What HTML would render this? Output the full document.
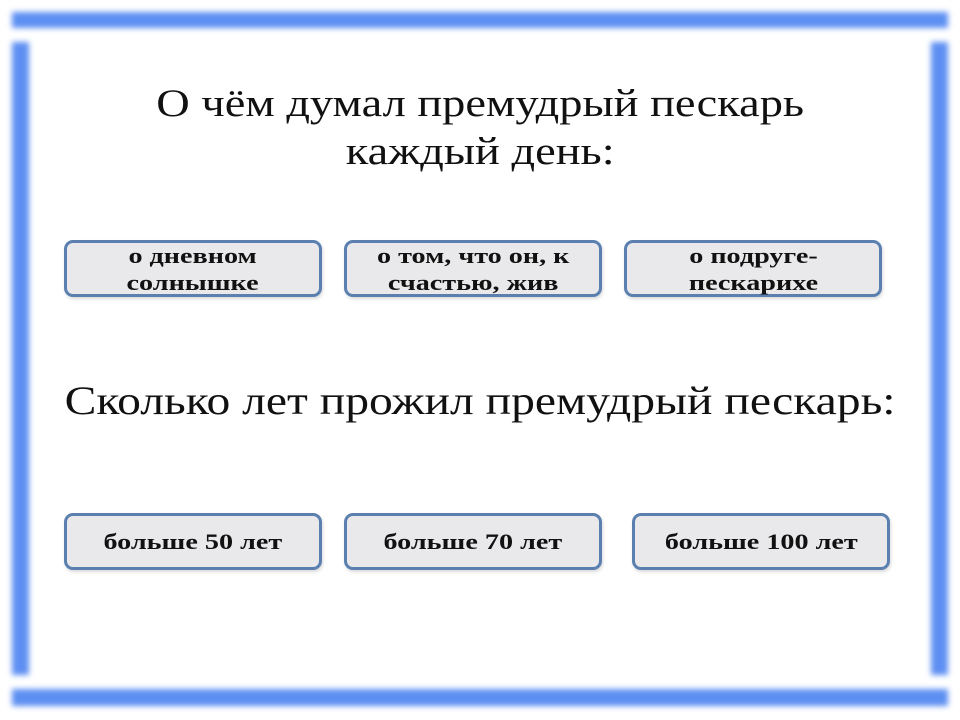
<!DOCTYPE html>
<html><head><meta charset="utf-8"><style>
body{margin:0;width:960px;height:720px;background:#fff;position:relative;overflow:hidden;font-family:"Liberation Serif",serif}
.bar{position:absolute;background:#5d8ff2;filter:blur(3px)}
.t{position:absolute;left:0;width:960px;text-align:center;color:#111}
.t span{display:inline-block;transform:scaleX(1.19)}
.b{position:absolute;box-sizing:border-box;border:3px solid #5b80b0;border-radius:9px;background:#e9e9eb;display:flex;align-items:center;justify-content:center;text-align:center;font-weight:bold;font-size:22px;line-height:27px;color:#111;box-shadow:1px 2px 3px rgba(0,0,0,.15)}
.b span{display:inline-block;transform:scaleX(1.28)}
</style></head><body>
<div class="bar" style="left:12px;top:12px;width:936px;height:16px"></div>
<div class="bar" style="left:12px;top:42px;width:17px;height:633px"></div>
<div class="bar" style="left:931px;top:42px;width:17px;height:633px"></div>
<div class="bar" style="left:12px;top:689px;width:936px;height:17px"></div>
<div class="t" style="top:80px;font-size:39px;line-height:48px"><span>О чём думал премудрый пескарь<br>каждый день:</span></div>
<div class="t" style="top:376px;font-size:40px;line-height:50px"><span>Сколько лет прожил премудрый пескарь:</span></div>
<div class="b" style="left:64px;top:240px;width:258px;height:57px"><span>о дневном<br>солнышке</span></div>
<div class="b" style="left:344px;top:240px;width:258px;height:57px"><span>о том, что он, к<br>счастью, жив</span></div>
<div class="b" style="left:624px;top:240px;width:258px;height:57px"><span>о подруге-<br>пескарихе</span></div>
<div class="b" style="left:64px;top:513px;width:258px;height:57px"><span>больше 50 лет</span></div>
<div class="b" style="left:344px;top:513px;width:258px;height:57px"><span>больше 70 лет</span></div>
<div class="b" style="left:632px;top:513px;width:258px;height:57px"><span>больше 100 лет</span></div>
</body></html>
